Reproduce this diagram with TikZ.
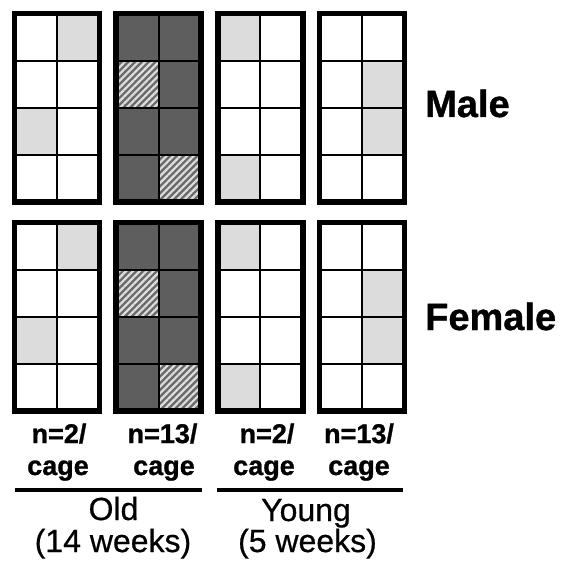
\documentclass[tikz,border=0pt]{standalone}
\usepackage{fontspec}
\setmainfont{Liberation Sans}
\newfontface\heavyreg[FakeBold=0.6]{Liberation Sans}
\newfontface\heavybold[FakeBold=1]{Liberation Sans Bold}
\usetikzlibrary{patterns.meta}
\definecolor{cagelight}{HTML}{DCDCDC}
\definecolor{cagedark}{HTML}{5E5E5E}
\definecolor{hatchbase}{HTML}{6A6A6A}
\definecolor{stripe}{HTML}{DEDEDE}

\tikzset{
  celllight/.style={fill=cagelight},
  cellhatch/.style={fill=hatchbase,
    postaction={pattern={Lines[angle=45,distance=4.8pt,line width=2.2pt]},
                pattern color=stripe}},
  gridline/.style={line width=2pt},
  frameline/.style={line width=5.5pt},
  countlab/.style={inner sep=0pt, anchor=base,
    font=\fontsize{27}{30}\heavybold},
  grouplab/.style={inner sep=0pt, anchor=base,
    font=\fontsize{32}{36}\heavyreg},
  sexlab/.style={inner sep=0pt, anchor=base west,
    font=\fontsize{38}{42}\heavybold},
  grouprule/.style={line width=3.5pt},
}

% one cage: #1,#2 = top-left corner of the frame, #3 = base fill,
% #4 = list of col/row/style for the marked cells
\newcommand\cagegrid[4]{%
  \begin{scope}[shift={(#1,#2)}]
    \fill[#3] (0,0) rectangle (85,188.5);
    \foreach \c/\r/\s in {#4}
      \path[\s] (\c*42.5,\r*47.125) rectangle ++(42.5,47.125);
    \draw[gridline] (42.5,0) -- (42.5,188.5);
    \foreach \r in {1,2,3}
      \draw[gridline] (0,\r*47.125) -- (85,\r*47.125);
    \draw[frameline] (0,0) rectangle (85,188.5);
  \end{scope}}

\begin{document}
\begin{tikzpicture}[x=1pt,y=-1pt]
  \useasboundingbox (0,0) rectangle (570,567);

  % male cages
  \cagegrid{14.5}{13.5}{white}{1/0/celllight, 0/2/celllight}
  \cagegrid{116.2}{13.5}{cagedark}{0/1/cellhatch, 1/3/cellhatch}
  \cagegrid{217.9}{13.5}{white}{0/0/celllight, 0/3/celllight}
  \cagegrid{319.6}{13.5}{white}{1/1/celllight, 1/2/celllight}

  % female cages
  \cagegrid{14.5}{222.5}{white}{1/0/celllight, 0/2/celllight}
  \cagegrid{116.2}{222.5}{cagedark}{0/1/cellhatch, 1/3/cellhatch}
  \cagegrid{217.9}{222.5}{white}{0/0/celllight, 0/3/celllight}
  \cagegrid{319.6}{222.5}{white}{1/1/celllight, 1/2/celllight}

  % row labels
  \node[sexlab] (male) at (425,117) {Male};
  \node[sexlab] (female) at (425,330) {Female};

  % density labels
  \node[countlab] (d1) at (59,443) {n=2/};
  \node[countlab] (c1) at (58,475) {cage};
  \node[countlab] (d2) at (162.5,443) {n=13/};
  \node[countlab] (c2) at (164,475) {cage};
  \node[countlab] (d3) at (267,443) {n=2/};
  \node[countlab] (c3) at (264,475) {cage};
  \node[countlab] (d4) at (359,443) {n=13/};
  \node[countlab] (c4) at (359,475) {cage};

  % age groups
  \coordinate (oldL) at (15,490);
  \coordinate (oldR) at (202,490);
  \coordinate (youngL) at (217,490);
  \coordinate (youngR) at (403,490);
  \draw[grouprule] (oldL) -- (oldR);
  \draw[grouprule] (youngL) -- (youngR);

  \node[grouplab] (old) at (113.5,520) {Old};
  \node[grouplab] (oldage) at (113,552) {(14 weeks)};
  \node[grouplab] (young) at (306,521) {Young};
  \node[grouplab] (youngage) at (307.5,552) {(5 weeks)};
\end{tikzpicture}
\end{document}
